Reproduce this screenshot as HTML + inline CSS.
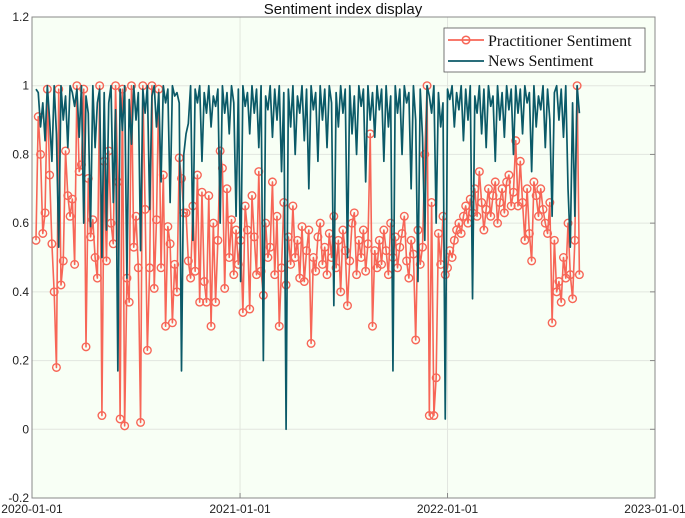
<!DOCTYPE html>
<html><head><meta charset="utf-8"><style>
body{margin:0;background:#fff;}
svg{display:block;font-family:"Liberation Sans",sans-serif;}
</style></head><body>
<svg id="chart" width="685" height="518" viewBox="0 0 685 518">
<text x="343" y="14" text-anchor="middle" font-size="15" fill="#111">Sentiment index display</text>
<rect x="32" y="17" width="623" height="481" fill="#f8fff5"/>
<g id="grid"></g>
<g id="series"></g>
<rect x="32" y="17" width="623" height="481" fill="none" stroke="#888" stroke-width="1"/>
<g id="axes"></g>
<g>
<rect x="444" y="28" width="201" height="44" fill="#fff" stroke="#555" stroke-width="0.8"/>
<g>
<line x1="448" y1="40" x2="484" y2="40" stroke="#f76657" stroke-width="1.8"/>
<circle cx="466" cy="40" r="3.8" fill="none" stroke="#f76657" stroke-width="1.5"/>
<text x="488" y="46" font-family="'Liberation Serif',serif" font-size="16" fill="#111">Practitioner Sentiment</text>
</g>
<g>
<line x1="448" y1="61" x2="484" y2="61" stroke="#0b5a68" stroke-width="1.8"/>
<text x="488" y="66" font-family="'Liberation Serif',serif" font-size="16" fill="#111">News Sentiment</text>
</g>
</g>
</svg>
<script>
const yTicks=[1.2,1,0.8,0.6,0.4,0.2,0,-0.2];
const yTickLabels=["1.2","1","0.8","0.6","0.4","0.2","0","-0.2"];
const xTickDays=[0,366,731,1096];
const xTickLabels=["2020-01-01","2021-01-01","2022-01-01","2023-01-01"];
const startDay=7;
const stepDays=4;
const practitioner=[0.55,0.91,0.80,0.57,0.63,0.99,0.74,0.54,0.40,0.18,0.99,
0.42,0.49,0.81,0.68,0.62,0.67,0.48,1.00,0.75,0.77,0.99,0.24,0.73,0.56,0.61,0.50,0.44,
1.00,0.04,0.78,0.49,0.81,0.60,0.54,1.00,0.72,0.03,0.99,0.01,0.44,0.37,1.00,0.53,0.62,0.47,
0.02,1.00,0.64,0.23,0.47,1.00,0.41,0.61,0.99,0.47,0.74,0.30,0.59,0.54,0.31,0.48,0.40,0.79,0.73,
0.63,0.63,0.49,0.44,0.65,0.46,0.74,0.37,0.69,0.43,0.37,0.68,0.30,0.60,0.37,0.55,0.81,0.76,0.41,0.70,0.50,0.61,0.45,0.58,0.48,
0.55,0.34,0.65,0.58,0.35,0.68,0.56,0.45,0.75,0.46,0.39,0.60,0.50,0.53,0.72,0.45,0.62,0.30,0.47,0.66,0.42,0.56,0.48,0.65,0.50,0.55,0.44,0.59,
0.43,0.52,0.58,0.25,0.50,0.46,0.56,0.60,0.48,0.53,0.45,0.57,0.50,0.62,0.47,0.55,0.40,0.58,0.52,0.36,0.49,0.60,0.63,0.45,0.55,0.50,0.58,0.46,0.54,0.86,0.30,0.52,0.47,
0.55,0.48,0.58,0.52,0.45,0.60,0.50,0.56,0.47,0.53,0.57,0.62,0.49,0.44,0.55,0.51,0.26,0.58,0.48,0.53,0.80,1.00,0.04,0.66,0.04,0.15,0.57,0.48,0.62,0.45,
0.47,0.52,0.50,0.55,0.58,0.60,0.57,0.62,0.65,0.60,0.67,0.63,0.70,0.62,0.75,0.66,0.58,0.64,0.70,0.62,0.68,0.72,0.60,0.66,0.70,0.63,0.72,0.74,0.65,0.69,0.84,
0.65,0.78,0.66,0.55,0.70,0.57,0.49,0.72,0.68,0.62,0.70,0.64,0.60,0.57,0.66,0.31,0.55,0.40,0.43,0.37,0.50,0.44,0.60,0.45,0.38,0.55,1.00,0.45];
const news=[0.99,0.98,0.88,0.95,0.84,1.00,0.90,0.78,1.00,0.86,0.53,
1.00,0.90,0.97,0.82,1.00,0.98,0.94,0.99,0.85,1.00,0.60,0.97,0.92,0.59,1.00,0.82,0.95,
0.99,0.50,0.98,0.58,0.95,1.00,0.66,0.93,0.17,0.99,0.87,1.00,0.44,0.96,0.83,1.00,0.90,0.98,
0.52,0.99,0.92,1.00,0.64,0.97,1.00,0.88,0.98,0.72,1.00,0.95,0.99,0.66,1.00,0.97,0.98,0.95,0.17,
0.80,0.86,0.89,1.00,0.55,0.99,0.95,1.00,0.78,0.98,0.92,1.00,0.88,0.97,0.94,0.99,0.60,1.00,0.92,0.98,0.86,1.00,0.95,0.62,0.99,
0.43,1.00,0.94,0.98,0.86,1.00,0.92,0.99,0.82,1.00,0.20,0.97,0.93,1.00,0.85,0.99,0.90,1.00,0.75,0.98,0.00,0.99,0.88,1.00,0.80,0.97,0.92,1.00,
0.84,0.99,0.70,1.00,0.93,0.98,0.78,1.00,0.90,0.99,0.82,1.00,0.95,0.36,0.98,0.88,1.00,0.92,0.99,0.50,1.00,0.86,0.97,0.80,1.00,0.94,0.99,0.72,1.00,0.90,0.98,0.85,1.00,
0.93,0.99,0.78,1.00,0.88,0.97,0.17,1.00,0.92,0.99,0.80,1.00,0.95,0.98,0.70,1.00,0.90,0.43,0.99,0.85,0.55,1.00,0.97,0.92,1.00,0.60,0.98,0.88,0.95,0.03,
0.99,0.96,1.00,0.88,0.98,0.93,1.00,0.84,0.99,0.90,1.00,0.38,0.97,0.92,1.00,0.86,0.99,0.82,1.00,0.94,0.97,0.78,1.00,0.90,0.98,0.85,1.00,0.93,0.99,0.80,1.00,
0.92,0.99,0.86,1.00,0.95,0.98,0.75,1.00,0.88,0.97,0.93,1.00,0.82,0.99,0.90,0.62,0.98,1.00,0.90,0.99,0.85,1.00,0.70,0.53,0.95,0.62,1.00,0.92];

const NS="http://www.w3.org/2000/svg";
const X0=32,X1=655,Y0=17,Y1=498;
function xScale(d){return X0+(d/1096)*(X1-X0);}
function yScale(v){return Y1-(v+0.2)/1.4*(Y1-Y0);}
function mk(tag,attrs,parent){const e=document.createElementNS(NS,tag);for(const k in attrs)e.setAttribute(k,attrs[k]);parent.appendChild(e);return e;}
const grid=document.getElementById('grid'),axes=document.getElementById('axes'),series=document.getElementById('series');
yTicks.forEach((t,i)=>{
  const y=yScale(t);
  const g=mk('line',{x1:X0,x2:X1,y1:y,y2:y,stroke:'#e2e6df','stroke-width':1},grid);
  
  
  const tk=mk('line',{x1:X1-5,x2:X1,y1:y,y2:y,stroke:'#888'},axes);
  
  
  const tx=mk('text',{x:X0-3,y:y+4,'text-anchor':'end','font-size':12,fill:'#222'},axes);
  
  
  tx.textContent=yTickLabels[i];
});
xTickDays.forEach((d,i)=>{
  const x=xScale(d);
  const g=mk('line',{x1:x,x2:x,y1:Y0,y2:Y1,stroke:'#e2e6df','stroke-width':1},grid);
  
  
  const tk=mk('line',{x1:x,x2:x,y1:Y1-5,y2:Y1,stroke:'#888'},axes);
  
  
  const tx=mk('text',{x:x,y:Y1+15,'text-anchor':'middle','font-size':12,fill:'#222'},axes);
  
  
  tx.textContent=xTickLabels[i];
});
function pts(arr){return arr.map((v,i)=>xScale(startDay+i*stepDays).toFixed(2)+','+yScale(v).toFixed(2)).join(' ');}
const pl=mk('polyline',{points:pts(practitioner),fill:'none',stroke:'#f76657','stroke-width':1.6,'stroke-linejoin':'round'},series);


practitioner.forEach((v,i)=>{
  const c=mk('circle',{cx:xScale(startDay+i*stepDays),cy:yScale(v),r:3.8,fill:'none',stroke:'#f76657','stroke-width':1.4},series);
  
  
});
const nl=mk('polyline',{points:pts(news),fill:'none',stroke:'#0b5a68','stroke-width':1.7,'stroke-linejoin':'round'},series);


</script>
</body></html>
